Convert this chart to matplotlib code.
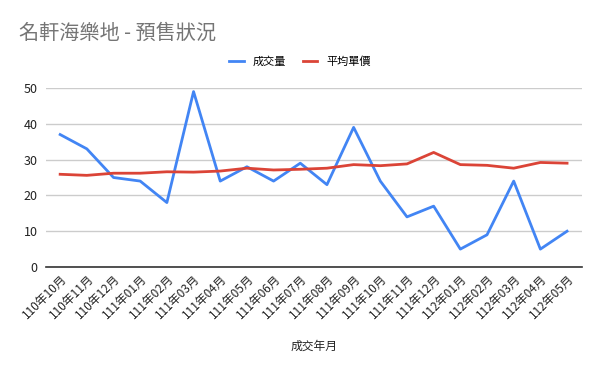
import matplotlib
matplotlib.use("Agg")
import matplotlib.pyplot as plt

plt.rcParams['font.family'] = ['Noto Sans CJK TC', 'DejaVu Sans']

months = ["110年10月", "110年11月", "110年12月", "111年01月", "111年02月", "111年03月",
          "111年04月", "111年05月", "111年06月", "111年07月", "111年08月", "111年09月",
          "111年10月", "111年11月", "111年12月", "112年01月", "112年02月", "112年03月",
          "112年04月", "112年05月"]
volume = [37, 33, 25, 24, 18, 49, 24, 28, 24, 29, 23, 39, 24, 14, 17, 5, 9, 24, 5, 10]
avg_price = [25.9, 25.6, 26.2, 26.2, 26.6, 26.5, 26.8, 27.6, 27.1, 27.3, 27.6, 28.6,
             28.3, 28.8, 32.0, 28.6, 28.4, 27.6, 29.2, 29.0]

fig = plt.figure(figsize=(6, 3.71), dpi=100)
ax = fig.add_axes([0.0767, 0.2803, 0.8933, 0.4825])

x = list(range(len(months)))
l1, = ax.plot(x, volume, color='#4285F4', lw=2, label='成交量', zorder=3)
l2, = ax.plot(x, avg_price, color='#DB4437', lw=2, label='平均單價', zorder=3)

ax.set_xlim(-0.53, len(months) - 1 + 0.56)
ax.set_ylim(0, 50)
ax.set_yticks([0, 10, 20, 30, 40, 50])
ax.yaxis.grid(True, color='#cccccc', lw=1)
ax.set_axisbelow(True)
for s in ['top', 'right', 'left']:
    ax.spines[s].set_visible(False)
ax.spines['bottom'].set_color('#333333')
ax.spines['bottom'].set_linewidth(1.2)
ax.tick_params(axis='y', length=0, labelsize=9, labelcolor='#222222', pad=6)
ax.tick_params(axis='x', length=0, labelsize=8.5, labelcolor='#222222', pad=4)
ax.set_xticks(x)
ax.set_xticklabels(months, rotation=45, ha='right', rotation_mode='anchor')

ax.set_xlabel('成交年月', fontsize=8.5, color='#222222', labelpad=13)

fig.text(0.032, 0.91, '名軒海樂地 - 預售狀況', fontsize=14.5, color='#757575',
         ha='left', va='center')

fig.legend(handles=[l1, l2], loc='center', bbox_to_anchor=(0.5, 0.835), ncol=2,
           frameon=False, fontsize=8, handlelength=1.3, handletextpad=0.8,
           columnspacing=1.5)

fig.savefig('out.png', dpi=100)
